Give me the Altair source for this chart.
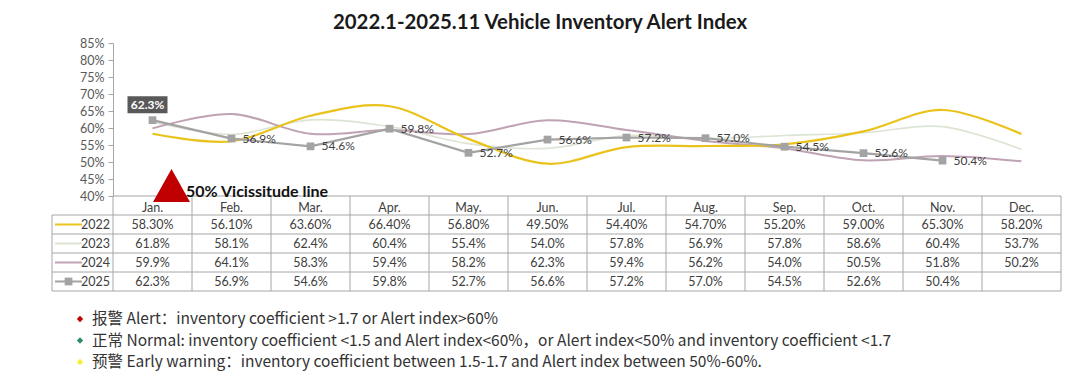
import altair as alt
import pandas as pd

TITLE = "2022.1-2025.11 Vehicle Inventory Alert Index"
months = ["Jan.", "Feb.", "Mar.", "Apr.", "May.", "Jun.", "Jul.", "Aug.", "Sep.", "Oct.", "Nov.", "Dec."]
years = ["2022", "2023", "2024", "2025"]
v2022 = [58.3, 56.1, 63.6, 66.4, 56.8, 49.5, 54.4, 54.7, 55.2, 59.0, 65.3, 58.2]
v2023 = [61.8, 58.1, 62.4, 60.4, 55.4, 54.0, 57.8, 56.9, 57.8, 58.6, 60.4, 53.7]
v2024 = [59.9, 64.1, 58.3, 59.4, 58.2, 62.3, 59.4, 56.2, 54.0, 50.5, 51.8, 50.2]
v2025 = [62.3, 56.9, 54.6, 59.8, 52.7, 56.6, 57.2, 57.0, 54.5, 52.6, 50.4]
decimals = [2, 1, 1, 1]
colors = ["#E9C21C", "#DCE4D3", "#BFA2B3", "#A3A3A3"]
y_ticks = [0.40, 0.45, 0.50, 0.55, 0.60, 0.65, 0.70, 0.75, 0.80, 0.85]
annot_text = "50% Vicissitude line"
notes = [
    "报警 Alert：inventory coefficient >1.7 or Alert index>60%",
    "正常 Normal: inventory coefficient <1.5 and Alert index<60%，or Alert index<50% and inventory coefficient <1.7",
    "预警 Early warning：inventory coefficient between 1.5-1.7 and Alert index between 50%-60%.",
]
note_colors = ["#C00000", "#2E8B66", "#F5F03A"]

FONT = "Lato"
series = [v2022, v2023, v2024, v2025]

rows = []
for r, (yr, vals, d) in enumerate(zip(years, series, decimals)):
    for i, v in enumerate(vals):
        rows.append(dict(year=yr, idx=i, xc=i + 0.5, value=v / 100.0,
                         label=f"{v:.{d}f}%", ty=r + 1.5, short=f"{v:.1f}%"))
df = pd.DataFrame(rows)

hdr = pd.DataFrame(dict(month=months, xc=[i + 0.5 for i in range(len(months))], ty=0.5))

LEFT = -0.772  # table left edge, in column units
hrules = pd.DataFrame(
    [dict(x1=0, x2=12, ty=0)] + [dict(x1=LEFT, x2=12, ty=k) for k in range(1, 6)]
)
vrules = pd.DataFrame(
    [dict(x=k, y1=0, y2=5) for k in range(0, 13)] + [dict(x=LEFT, y1=1, y2=5)]
)
leg = pd.DataFrame(dict(year=years, x1=-0.734, x2=-0.392, xm=-0.563, x0=0,
                        ty=[r + 1.5 for r in range(len(years))]))

xs = alt.Scale(domain=[0, 12], nice=False, zero=False)
ys = alt.Scale(domain=[0.40, 0.85], nice=False, zero=False)
ts = alt.Scale(domain=[0, 5], range=[153, 248], nice=False, zero=False)
cs = alt.Scale(domain=years, range=colors)

X = alt.X("xc:Q", scale=xs, axis=None)
TY = alt.Y("ty:Q", scale=ts, axis=None)

layers = []
# smooth lines 2023, 2024, 2022
order = [("2023", 1.6), ("2024", 2.0), ("2022", 2.2)]
first = True
for yr, w in order:
    axis = None
    if first:
        axis = alt.Axis(values=y_ticks, format=".0%", labelFont=FONT, labelFontSize=12.5,
                        labelColor="#595959", tickColor="#A6A6A6", domainColor="#A6A6A6",
                        tickSize=5, labelPadding=4, grid=False, title=None)
        first = False
    layers.append(
        alt.Chart(df[df.year == yr]).mark_line(interpolate="cardinal", strokeWidth=w).encode(
            x=X,
            y=alt.Y("value:Q", scale=ys, axis=axis),
            color=alt.Color("year:N", scale=cs, legend=None),
        )
    )
d25 = df[df.year == "2025"]
layers.append(
    alt.Chart(d25).mark_line(strokeWidth=2.2).encode(
        x=X, y=alt.Y("value:Q", scale=ys, axis=None),
        color=alt.Color("year:N", scale=cs, legend=None))
)
layers.append(
    alt.Chart(d25).mark_point(shape="square", filled=True, size=60, opacity=1).encode(
        x=X, y=alt.Y("value:Q", scale=ys, axis=None),
        color=alt.Color("year:N", scale=cs, legend=None))
)
layers.append(
    alt.Chart(d25[d25.idx >= 1]).mark_text(align="left", baseline="middle", dx=11, font=FONT,
                                           fontSize=12, color="#404040").encode(
        x=X, y=alt.Y("value:Q", scale=ys, axis=None), text="short:N")
)
d25first = d25[d25.idx == 0]
layers.append(
    alt.Chart(d25first).mark_point(shape="M-1.2,-0.51L1.2,-0.51L1.2,0.51L-1.2,0.51Z", filled=True,
                                   size=1111, color="#595959", opacity=1,
                                   xOffset=-5, yOffset=-15.5).encode(
        x=X, y=alt.Y("value:Q", scale=ys, axis=None))
)
layers.append(
    alt.Chart(d25first).mark_text(align="center", baseline="middle", font=FONT, fontSize=12,
                                  fontWeight="bold", color="white", dx=-5, dy=-15.5).encode(
        x=X, y=alt.Y("value:Q", scale=ys, axis=None), text="short:N")
)

# table grid
layers.append(
    alt.Chart(hrules).mark_rule(color="#A6A6A6", strokeWidth=1).encode(
        x=alt.X("x1:Q", scale=xs, axis=None), x2="x2:Q", y=TY)
)
layers.append(
    alt.Chart(vrules).mark_rule(color="#A6A6A6", strokeWidth=1).encode(
        x=alt.X("x:Q", scale=xs, axis=None),
        y=alt.Y("y1:Q", scale=ts, axis=None), y2="y2:Q")
)
# header
layers.append(
    alt.Chart(hdr).mark_text(font=FONT, fontSize=12.5, color="#404040", baseline="middle",
                             dy=2).encode(
        x=X, y=TY, text="month:N")
)
# cells
layers.append(
    alt.Chart(df).mark_text(font=FONT, fontSize=12.5, color="#404040", baseline="middle").encode(
        x=X, y=TY, text="label:N")
)
# legend column
layers.append(
    alt.Chart(leg).mark_rule(strokeWidth=2).encode(
        x=alt.X("x1:Q", scale=xs, axis=None), x2="x2:Q", y=TY,
        color=alt.Color("year:N", scale=cs, legend=None))
)
layers.append(
    alt.Chart(leg[leg.year == "2025"]).mark_point(shape="square", filled=True, size=60, opacity=1).encode(
        x=alt.X("xm:Q", scale=xs, axis=None), y=TY,
        color=alt.Color("year:N", scale=cs, legend=None))
)
layers.append(
    alt.Chart(leg).mark_text(font=FONT, fontSize=12.5, color="#404040", align="right",
                             baseline="middle", dx=-3).encode(
        x=alt.X("x0:Q", scale=xs, axis=None), y=TY, text="year:N")
)

# title
layers.append(
    alt.Chart(pd.DataFrame(dict(t=[TITLE]))).mark_text(
        font=FONT, fontSize=20.4, fontWeight="bold", color="#1a1a1a", align="center",
        baseline="alphabetic").encode(x=alt.value(427), y=alt.value(-14), text="t:N")
)
# triangle + annotation
layers.append(
    alt.Chart(pd.DataFrame(dict(a=[0]))).mark_point(
        shape="M0,-0.89L1,0.89L-1,0.89Z", filled=True, size=1369, color="#C00000", opacity=1
    ).encode(x=alt.value(58.5), y=alt.value(142.5))
)
layers.append(
    alt.Chart(pd.DataFrame(dict(t=[annot_text]))).mark_text(
        font=FONT, fontSize=16, fontWeight="bold", color="#111111", align="left",
        baseline="alphabetic").encode(x=alt.value(73), y=alt.value(154), text="t:N")
)
# notes
note_y = [276, 297.5, 319]
for t, c, yy in zip(notes, note_colors, note_y):
    layers.append(
        alt.Chart(pd.DataFrame(dict(t=[t]))).mark_text(
            font="Noto Sans CJK SC", fontSize=15.5, color="#333333", align="left",
            baseline="middle").encode(x=alt.value(-21), y=alt.value(yy), text="t:N")
    )
    layers.append(
        alt.Chart(pd.DataFrame(dict(t=[t]))).mark_point(
            shape="diamond", filled=True, size=40, color=c, opacity=1
        ).encode(x=alt.value(-33), y=alt.value(yy))
    )

chart = alt.layer(*layers).resolve_scale(y="independent").properties(
    width=948, height=153,
    autosize=alt.AutoSizeParams(type="none"),
    padding={"left": 113, "top": 43, "right": 19, "bottom": 180},
    background="white",
).configure_view(stroke=None)

chart.save("out.html", embed_options={"renderer": "svg", "actions": False})
